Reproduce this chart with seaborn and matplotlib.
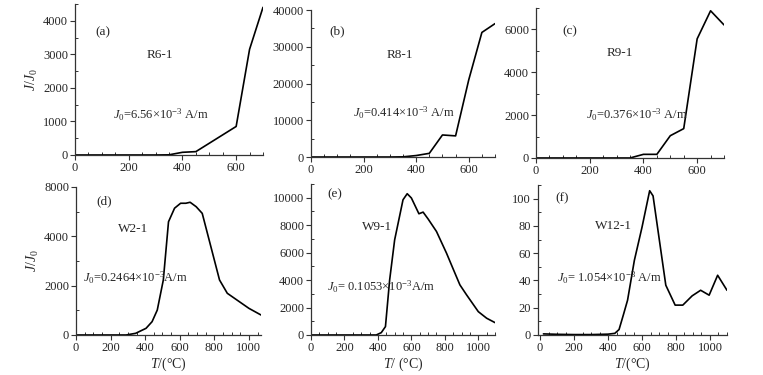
"""Thermal demagnetisation curves J/J0 versus temperature, six samples."""

import matplotlib.pyplot as plt
import pandas as pd
import seaborn as sns
from matplotlib.ticker import AutoMinorLocator, MultipleLocator

sns.set_style("ticks")
plt.rcParams["font.family"] = ["Liberation Serif", "DejaVu Serif"]
plt.rcParams["mathtext.fontset"] = "custom"
plt.rcParams["mathtext.rm"] = "Liberation Serif"
plt.rcParams["mathtext.it"] = "Liberation Serif:italic"
plt.rcParams["font.size"] = 9

# R6-1
t_r6 = [0, 50, 100, 150, 200, 250, 300, 350, 400, 450, 500, 550, 600, 650, 700]
j_r6 = [0, 0, 0, 0, 0, 0, 0, 5, 80, 100, 350, 600, 850, 3150, 4400]

# R8-1
t_r8 = [0, 50, 100, 150, 200, 250, 300, 350, 400, 450, 500, 550, 600, 650, 700]
j_r8 = [0, 0, 0, 0, 0, 0, 0, 50, 400, 1000, 6000, 5750, 21000, 33900, 36300]

# R9-1
t_r9 = [0, 50, 100, 150, 200, 250, 300, 350, 400, 450, 500, 550, 600, 650, 700]
j_r9 = [0, 0, 0, 0, 0, 0, 0, 0, 170, 170, 1040, 1370, 5560, 6870, 6210]

# W2-1
t_w2 = [0, 100, 200, 290, 345, 405, 440, 470, 505, 535, 570, 605, 635, 660,
        695, 730, 830, 875, 1000, 1070]
j_w2 = [0, 0, 0, 0, 68, 270, 540, 1010, 2230, 4590, 5140, 5340, 5340, 5380,
        5200, 4930, 2230, 1690, 1080, 810]

# W9-1
t_w9 = [0, 100, 200, 300, 390, 420, 445, 470, 500, 525, 550, 575, 600, 645,
        670, 700, 750, 810, 850, 890, 930, 1000, 1050, 1100]
j_w9 = [0, 0, 0, 0, 0, 170, 610, 4000, 6930, 8390, 9850, 10290, 9980, 8830,
        8950, 8450, 7540, 5960, 4800, 3650, 2920, 1700, 1220, 900]

# W12-1
t_w12 = [20, 100, 200, 300, 400, 440, 465, 490, 515, 555, 600, 645, 665, 740,
         795, 840, 895, 945, 995, 1045, 1100]
j_w12 = [0.8, 0.5, 0.3, 0.3, 0.6, 1.2, 4, 14.6, 25.5, 54.7, 79, 105.8, 102,
         36.5, 21.9, 21.9, 28.7, 32.8, 29.2, 43.8, 32.8]

w2_ytick_labels = ["0", "2000", "4000", "8000"]

panels = [
    # (rect, t, j, xlim, ylim, xstep, ystep, letter, name, J0 text)
    ([0.0983, 0.5867, 0.2464, 0.4027], t_r6, j_r6, (0, 700), (0, 4500), 200, 1000,
     "(a)", "R6-1", r"$J_{\mathrm{0}}$=6.56×10$^{\mathrm{-3}}$ A/m"),
    ([0.4076, 0.5813, 0.2412, 0.3920], t_r8, j_r8, (0, 700), (0, 40000), 200, 10000,
     "(b)", "R8-1", r"$J_{\mathrm{0}}$=0.414×10$^{\mathrm{-3}}$ A/m"),
    ([0.7025, 0.5787, 0.2464, 0.4000], t_r9, j_r9, (0, 700), (0, 7000), 200, 2000,
     "(c)", "R9-1", r"$J_{\mathrm{0}}$=0.376×10$^{\mathrm{-3}}$ A/m"),
    ([0.0996, 0.1067, 0.2425, 0.3947], t_w2, j_w2, (0, 1070), (0, 6000), 200, 2000,
     "(d)", "W2-1", r"$J_{\mathrm{0}}$=0.2464×10$^{\mathrm{-3}}$A/m"),
    ([0.4076, 0.1067, 0.2412, 0.4027], t_w9, j_w9, (0, 1100), (0, 11000), 200, 2000,
     "(e)", "W9-1", r"$J_{\mathrm{0}}$= 0.1053×10$^{\mathrm{-3}}$A/m"),
    ([0.7051, 0.1067, 0.2477, 0.4000], t_w12, j_w12, (-12, 1100), (0, 110), 200, 20,
     "(f)", "W12-1", r"$J_{\mathrm{0}}$= 1.054×10$^{\mathrm{-3}}$ A/m"),
]

# text positions in axes fraction: letter, sample name (centre), J0 (left)
text_pos = [
    ((0.106, 0.815), (0.452, 0.662), (0.202, 0.265)),
    ((0.098, 0.857), (0.484, 0.694), (0.228, 0.299)),
    ((0.138, 0.847), (0.447, 0.700), (0.266, 0.287)),
    ((0.109, 0.905), (0.306, 0.716), (0.036, 0.385)),
    ((0.087, 0.934), (0.359, 0.715), (0.087, 0.318)),
    ((0.090, 0.913), (0.397, 0.727), (0.100, 0.380)),
]

xlabels = [None, None, None, r"$T$/(°C)", r"$T$/ (°C)", r"$T$/(°C)"]

fig = plt.figure(figsize=(7.63, 3.75), dpi=100)

for k, (rect, t, j, xlim, ylim, xstep, ystep, letter, name, j0) in enumerate(panels):
    ax = fig.add_axes(rect)
    df = pd.DataFrame({"T": t, "J": j})
    sns.lineplot(data=df, x="T", y="J", ax=ax, color="black", linewidth=1.2,
                 sort=False, estimator=None)
    ax.set_xlim(*xlim)
    ax.set_ylim(*ylim)
    ax.xaxis.set_major_locator(MultipleLocator(xstep))
    ax.yaxis.set_major_locator(MultipleLocator(ystep))
    ax.xaxis.set_minor_locator(AutoMinorLocator(4))
    ax.yaxis.set_minor_locator(AutoMinorLocator(2))
    ax.tick_params(which="major", direction="out", length=3.5, width=0.8,
                   labelsize=9, pad=1.5, color="#333333")
    ax.tick_params(which="minor", direction="in", length=2.5, width=0.7,
                   color="#333333")
    for side in ["top", "right"]:
        ax.spines[side].set_visible(False)
    for side in ["left", "bottom"]:
        ax.spines[side].set_linewidth(0.9)
        ax.spines[side].set_color("#333333")

    if k == 3:
        ax.set_yticks([0, 2000, 4000, 6000])
        ax.set_yticklabels(w2_ytick_labels)

    ax.set_xlabel(xlabels[k] if xlabels[k] else "", fontsize=10, labelpad=1)
    if k in (0, 3):
        ax.set_ylabel(r"$J/J_{\mathrm{0}}$", fontsize=10, labelpad=2)
    else:
        ax.set_ylabel("")

    p_letter, p_name, p_j0 = text_pos[k]
    ax.text(*p_letter, letter, transform=ax.transAxes, fontsize=9.5,
            ha="left", va="center")
    ax.text(*p_name, name, transform=ax.transAxes, fontsize=9.5,
            ha="center", va="center")
    ax.text(*p_j0, j0, transform=ax.transAxes, fontsize=9,
            ha="left", va="center")

fig.savefig("out.png", dpi=100)
